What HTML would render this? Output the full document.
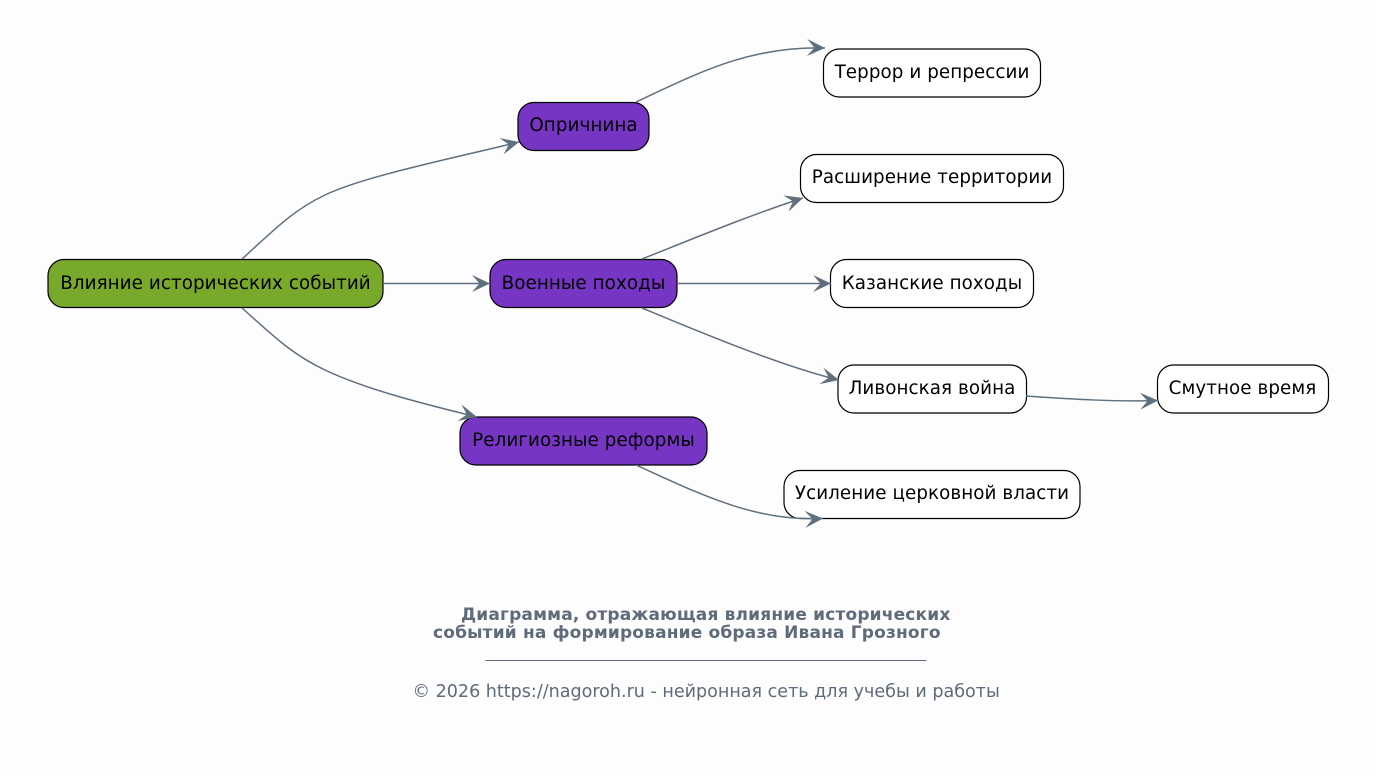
<!DOCTYPE html>
<html><head><meta charset="utf-8"><style>
html,body{margin:0;padding:0;background:#fdfdfd}
svg{display:block}
.n{stroke:#000;stroke-width:1.2}
.e{fill:none;stroke:#5f6f7e;stroke-width:1.5}
.a{fill:#5f6f7e;stroke:none}
text{font-family:"DejaVu Sans",sans-serif}
.t{font-size:18.3px;letter-spacing:.08px;text-anchor:middle;fill:#000}
.c{font-size:17px;letter-spacing:.17px;font-weight:bold;fill:#5f6b7a}
.f{font-size:17.55px;fill:#5f6b7a}
</style></head><body>
<svg width="1376" height="776" viewBox="0 0 1376 776" xmlns="http://www.w3.org/2000/svg">
<rect width="1376" height="776" fill="#fdfdfd"/>
<defs><marker id="m" markerUnits="userSpaceOnUse" markerWidth="22" markerHeight="20" refX="18" refY="8.500" orient="auto" overflow="visible">
<path class="a" d="M0 0 L18 8.500 L0 17 L7.500 8.500 Z"/></marker></defs>
<rect class="n" x="48" y="259.500" width="335" height="48" rx="16" fill="#78a92a"/>
<rect class="n" x="518" y="102.500" width="131" height="48" rx="16" fill="#7635c2"/>
<rect class="n" x="490" y="259.500" width="187" height="48" rx="16" fill="#7635c2"/>
<rect class="n" x="460" y="417" width="247" height="48" rx="16" fill="#7635c2"/>
<rect class="n" x="823.500" y="49" width="217" height="48" rx="16" fill="#fff"/>
<rect class="n" x="800.500" y="154.500" width="263" height="48" rx="16" fill="#fff"/>
<rect class="n" x="830.500" y="259.500" width="203" height="48" rx="16" fill="#fff"/>
<rect class="n" x="838" y="365" width="188.500" height="48" rx="16" fill="#fff"/>
<rect class="n" x="1157.500" y="365" width="171" height="48" rx="16" fill="#fff"/>
<rect class="n" x="784" y="470.500" width="296" height="48" rx="16" fill="#fff"/>
<path class="e" marker-end="url(#m)" d="M242 259 C270 234 291 211 325 195 C365 176 450 159 519 142"/>
<path class="e" marker-end="url(#m)" d="M383 283.500 H490"/>
<path class="e" marker-end="url(#m)" d="M242 308 C270 333 291 354 325 370 C365 389 420 403 477 417"/>
<path class="e" marker-end="url(#m)" d="M636 102 C700 72 750 46 825 48"/>
<path class="e" marker-end="url(#m)" d="M642 259 C690 240 750 215 803 198"/>
<path class="e" marker-end="url(#m)" d="M677 283.500 H831"/>
<path class="e" marker-end="url(#m)" d="M642 308 C690 328 780 366 839 380"/>
<path class="e" marker-end="url(#m)" d="M1026 396 C1070 399 1115 402 1158 400.500"/>
<path class="e" marker-end="url(#m)" d="M636 465 C700 494 755 522 823 518.500"/>
<text class="t" x="215.500" y="289">Влияние исторических событий</text>
<text class="t" x="583.500" y="131">Опричнина</text>
<text class="t" x="583.500" y="289">Военные походы</text>
<text class="t" x="583.500" y="446">Религиозные реформы</text>
<text class="t" x="932" y="78">Террор и репрессии</text>
<text class="t" x="932" y="183">Расширение территории</text>
<text class="t" x="932" y="289">Казанские походы</text>
<text class="t" x="932" y="394">Ливонская война</text>
<text class="t" x="1242.500" y="394">Смутное время</text>
<text class="t" x="932" y="499">Усиление церковной власти</text>
<text class="c" x="461" y="620">Диаграмма, отражающая влияние исторических</text>
<text class="c" x="433" y="638">событий на формирование образа Ивана Грозного</text>
<rect x="485.500" y="660" width="441" height="1" fill="#5f6b7a"/>
<text class="f" x="412.500" y="697">© 2026 https://nagoroh.ru - нейронная сеть для учебы и работы</text>
</svg>
</body></html>
